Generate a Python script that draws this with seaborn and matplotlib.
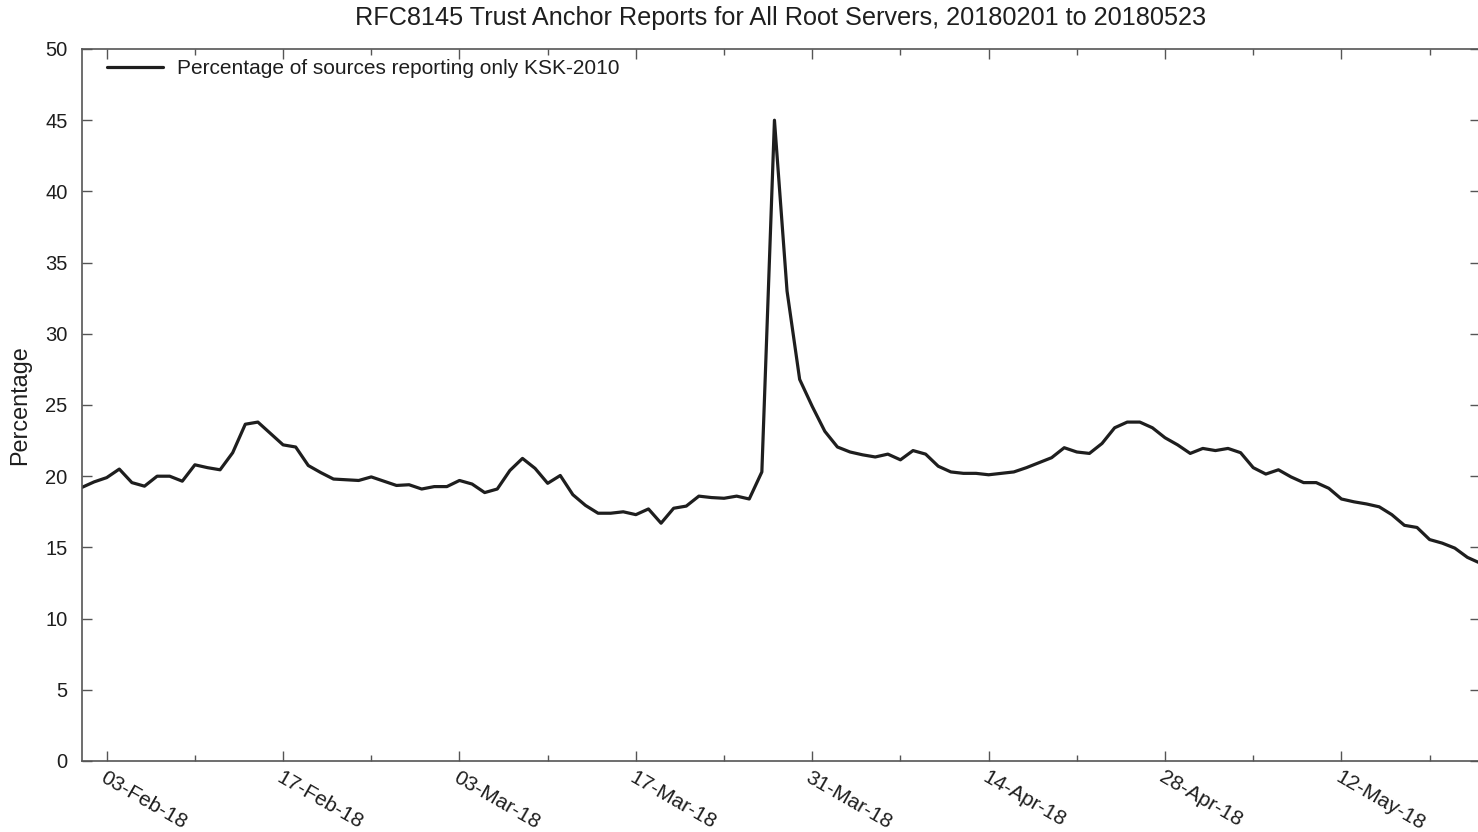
import matplotlib
matplotlib.use("Agg")
import matplotlib.pyplot as plt
import matplotlib.dates as mdates
import seaborn as sns
import pandas as pd

# Daily share of sources that report only the KSK-2010 trust anchor
start_date = "2018-02-01"
ksk2010_only_pct = [
    19.2, 19.6, 19.9, 20.5, 19.55, 19.3, 20.0, 20.0, 19.65, 20.8,
    20.6, 20.45, 21.65, 23.65, 23.8, 23.0, 22.2, 22.05, 20.75, 20.25,
    19.8, 19.75, 19.7, 19.95, 19.65, 19.35, 19.4, 19.1, 19.27, 19.27,
    19.7, 19.45, 18.85, 19.1, 20.4, 21.25, 20.55, 19.5, 20.05, 18.7,
    17.95, 17.4, 17.4, 17.5, 17.3, 17.7, 16.7, 17.75, 17.9, 18.6,
    18.5, 18.45, 18.6, 18.4, 20.3, 45.0, 33.0, 26.8, 24.9, 23.15,
    22.05, 21.7, 21.5, 21.35, 21.55, 21.15, 21.8, 21.55, 20.7, 20.3,
    20.2, 20.2, 20.1, 20.2, 20.3, 20.6, 20.95, 21.3, 22.0, 21.7,
    21.6, 22.3, 23.4, 23.8, 23.8, 23.4, 22.7, 22.2, 21.6, 21.95,
    21.8, 21.95, 21.65, 20.6, 20.15, 20.45, 19.95, 19.55, 19.55, 19.15,
    18.4, 18.2, 18.05, 17.85, 17.3, 16.55, 16.4, 15.55, 15.3, 14.95,
    14.3, 13.9,
]
series_label = "Percentage of sources reporting only KSK-2010"
title_text = "RFC8145 Trust Anchor Reports for All Root Servers, 20180201 to 20180523"
y_label = "Percentage"

dates = pd.date_range(start_date, periods=len(ksk2010_only_pct), freq="D")
df = pd.DataFrame({"date": dates, "pct": ksk2010_only_pct, "series": series_label})

sns.set_theme(style="white")
plt.rcParams["font.family"] = ["Liberation Sans", "DejaVu Sans"]
text_color = "#1e1e1e"
spine_color = "#555555"

W, H = 1478, 832
fig = plt.figure(figsize=(W / 100, H / 100), dpi=100)
ax = fig.add_axes([81.5 / W, 71 / H, (1480 - 81.5) / W, 712 / H])

sns.lineplot(data=df, x="date", y="pct", hue="series", palette=["#1e1e1e"],
             linewidth=2.3, ax=ax)

ax.set_xlim(dates[0], dates[-1])
ax.set_ylim(0, 50)
ax.set_yticks(range(0, 51, 5))

# labelled ticks every two weeks, unlabelled ticks halfway between
major_ticks = pd.date_range("2018-02-03", dates[-1], freq="14D")
minor_ticks = pd.date_range("2018-02-10", dates[-1], freq="14D")
ax.set_xticks(major_ticks)
ax.set_xticks(minor_ticks, minor=True)
ax.xaxis.set_major_formatter(mdates.DateFormatter("%d-%b-%y"))

ax.tick_params(axis="both", which="major", direction="in", length=7, width=1,
               color=spine_color, labelsize=14.5, labelcolor=text_color,
               top=True, right=True, bottom=True, left=True)
ax.tick_params(axis="x", which="minor", direction="in", length=4, width=1,
               color=spine_color, top=True, bottom=True)
ax.tick_params(axis="y", which="major", pad=10)
ax.tick_params(axis="x", which="major", pad=5, labelsize=15)

for lbl in ax.get_xticklabels():
    lbl.set_rotation(-30)
    lbl.set_ha("left")
    lbl.set_va("top")
    lbl.set_rotation_mode("anchor")

for sp in ax.spines.values():
    sp.set_color(spine_color)
    sp.set_linewidth(1.2)

ax.set_xlabel("")
ax.set_ylabel(y_label, fontsize=16.8, color=text_color, labelpad=10)
fig.suptitle(title_text, fontsize=18.2, color=text_color, x=781 / W,
             y=1 - 18 / H, va="center")

leg = ax.legend(loc="upper left", frameon=False, fontsize=15, handlelength=2.7,
                handletextpad=0.65, bbox_to_anchor=(98.5 / W, 1 - 51 / H),
                bbox_transform=fig.transFigure, borderaxespad=0)
for t in leg.get_texts():
    t.set_color(text_color)

fig.savefig("out.png", dpi=100)
